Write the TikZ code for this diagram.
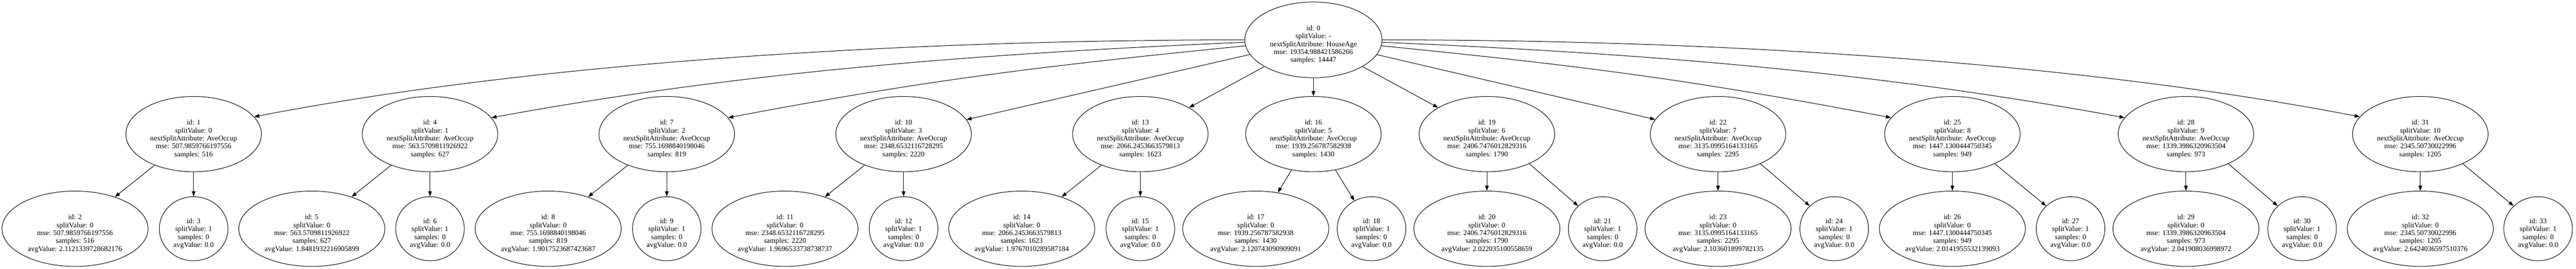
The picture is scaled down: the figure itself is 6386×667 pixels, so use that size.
\documentclass[tikz,border=0pt]{standalone}
\usepackage{fontspec}
\setmainfont{Liberation Serif}
\usetikzlibrary{shapes.geometric,arrows.meta}
\tikzset{
  tnode/.style={draw, ellipse, line width=1.3pt, inner sep=0pt},
  rootn/.style={tnode, minimum width=340pt, minimum height=188pt},
  midn/.style={tnode, minimum width=336pt, minimum height=187pt},
  bign/.style={tnode, minimum width=362pt, minimum height=187pt},
  smalln/.style={tnode, minimum width=170pt, minimum height=159pt},
  txt/.style={align=center, font=\fontsize{17.9pt}{19.6pt}\selectfont, inner sep=0pt, yshift=-12pt},
  edge/.style={line width=1.3pt, -{Triangle[length=12.8pt,width=9pt]}},
}
\newcommand\mkmid[5]{\node[midn, label={[txt]center:{id: #2\\splitValue: #3\\nextSplitAttribute: AveOccup\\mse: #4\\samples: #5}}] (n#2) at (#1,333) {};}
\newcommand\mkbig[5]{\node[bign, label={[txt]center:{id: #2\\splitValue: 0\\mse: #3\\samples: #4\\avgValue: #5}}] (n#2) at (#1,568) {};}
\newcommand\mksmall[2]{\node[smalln, label={[txt]center:{id: #2\\splitValue: 1\\samples: 0\\avgValue: 0.0}}] (n#2) at (#1,568) {};}
\begin{document}
\begin{tikzpicture}[x=1pt,y=-1pt]
\useasboundingbox (0,0) rectangle (6386,667);
\fill[white] (0,0) rectangle (6386,667);
% root
\node[rootn, label={[txt]center:{id: 0\\splitValue: -\\nextSplitAttribute: HouseAge\\mse: 19354.988421586266\\samples: 14447}}] (n0) at (3256,99) {};
% level 1
\mkmid{480}{1}{0}{507.9859766197556}{516}
\mkmid{1066}{4}{1}{563.5709811926922}{627}
\mkmid{1653}{7}{2}{755.1698840198046}{819}
\mkmid{2240}{10}{3}{2348.6532116728295}{2220}
\mkmid{2827}{13}{4}{2066.2453663579813}{1623}
\mkmid{3256}{16}{5}{1939.256787582938}{1430}
\mkmid{3686}{19}{6}{2406.7476012829316}{1790}
\mkmid{4259}{22}{7}{3135.0995164133165}{2295}
\mkmid{4840}{25}{8}{1447.1300444750345}{949}
\mkmid{5419}{28}{9}{1339.3986320963504}{973}
\mkmid{6000}{31}{10}{2345.50730022996}{1205}
% leaves
\mkbig{186}{2}{507.9859766197556}{516}{2.1121339728682176}
\mksmall{480}{3}
\mkbig{773}{5}{563.5709811926922}{627}{1.8481932216905899}
\mksmall{1066}{6}
\mkbig{1359}{8}{755.1698840198046}{819}{1.9017523687423687}
\mksmall{1653}{9}
\mkbig{1946}{11}{2348.6532116728295}{2220}{1.9696533738738737}
\mksmall{2240}{12}
\mkbig{2533}{14}{2066.2453663579813}{1623}{1.9767010289587184}
\mksmall{2827}{15}
\mkbig{3113}{17}{1939.256787582938}{1430}{2.120743090909091}
\mksmall{3400}{18}
\mkbig{3686}{20}{2406.7476012829316}{1790}{2.022035100558659}
\mksmall{3973}{21}
\mkbig{4259}{23}{3135.0995164133165}{2295}{2.103601899782135}
\mksmall{4547}{24}
\mkbig{4840}{26}{1447.1300444750345}{949}{2.0141955532139093}
\mksmall{5133}{27}
\mkbig{5419}{29}{1339.3986320963504}{973}{2.041908036998972}
\mksmall{5707}{30}
\mkbig{6000}{32}{2345.50730022996}{1205}{2.6424036597510376}
\mksmall{6292}{33}
% root edges
\draw[edge] (n0.180) .. controls +(-886,0) and +(671,-130) .. (n1.16);
\draw[edge] (n0.182) .. controls +(-700,30) and +(600,-110) .. (n4.15);
\draw[edge] (n0.185) .. controls +(-500,50) and +(500,-95) .. (n7.15);
\draw[edge] (n0) -- (n10);
\draw[edge] (n0) -- (n13);
\draw[edge] (n0) -- (n16);
\draw[edge] (n0) -- (n19);
\draw[edge] (n0) -- (n22);
\draw[edge] (n0.355) .. controls +(500,50) and +(-500,-95) .. (n25.165);
\draw[edge] (n0.358) .. controls +(700,30) and +(-600,-110) .. (n28.165);
\draw[edge] (n0.0) .. controls +(886,0) and +(-671,-130) .. (n31.164);
% level-1 to leaves
\foreach \p/\b/\s in {1/2/3, 4/5/6, 7/8/9, 10/11/12, 13/14/15} {
  \draw[edge] (n\p) -- (n\b);
  \draw[edge] (n\p) -- (n\s);
}
\draw[edge] (n16) -- (n17);
\draw[edge] (n16) -- (n18);
\foreach \p/\b/\s in {19/20/21, 22/23/24, 25/26/27, 28/29/30, 31/32/33} {
  \draw[edge] (n\p) -- (n\b);
  \draw[edge] (n\p.-35) -- (n\s.137);
}
\end{tikzpicture}
\end{document}
